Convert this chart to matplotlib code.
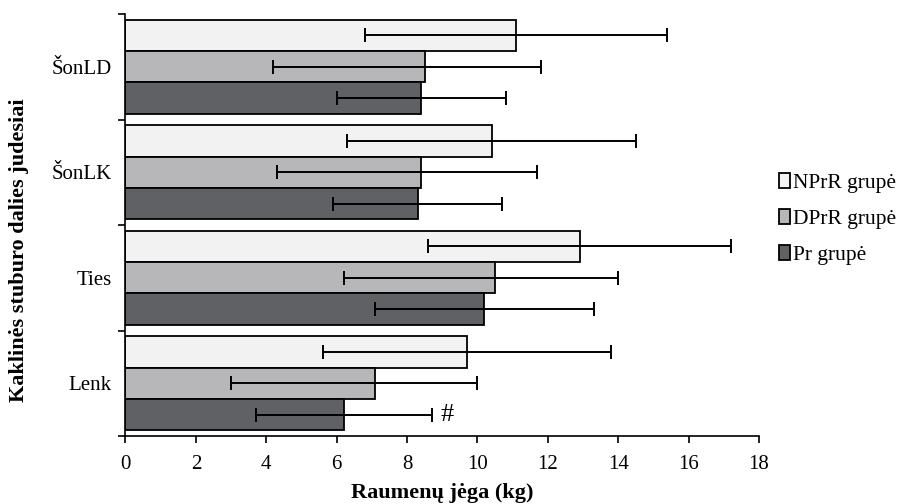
import matplotlib.pyplot as plt
import numpy as np
from matplotlib.ticker import FixedLocator

# Values (bottom to top on the y axis).
CATEGORIES = ["Lenk", "Ties", "ŠonLK", "ŠonLD"]
GROUPS = ["NPrR grupė", "DPrR grupė", "Pr grupė"]

NPRR_MEAN = [9.7, 12.9, 10.4, 11.1]
NPRR_ERR_LOW = [4.1, 4.3, 4.1, 4.3]
NPRR_ERR_HIGH = [4.1, 4.3, 4.1, 4.3]

DPRR_MEAN = [7.1, 10.5, 8.4, 8.5]
DPRR_ERR_LOW = [4.1, 4.3, 4.1, 4.3]
DPRR_ERR_HIGH = [2.9, 3.5, 3.3, 3.3]

PR_MEAN = [6.2, 10.2, 8.3, 8.4]
PR_ERR_LOW = [2.5, 3.1, 2.4, 2.4]
PR_ERR_HIGH = [2.5, 3.1, 2.4, 2.4]

X_TICKS = list(range(0, 20, 2))

COLORS = ["#f2f2f2", "#b7b7b9", "#606165"]
BAR_HEIGHT = 0.297

plt.rcParams["font.family"] = ["Liberation Serif", "DejaVu Serif"]

fig = plt.figure(figsize=(9.04, 5.04), dpi=100)
ax = fig.add_axes([0.1388, 0.1349, 0.7008, 0.8373])

y = np.arange(len(CATEGORIES))
series = [
    (NPRR_MEAN, NPRR_ERR_LOW, NPRR_ERR_HIGH, BAR_HEIGHT),
    (DPRR_MEAN, DPRR_ERR_LOW, DPRR_ERR_HIGH, 0.0),
    (PR_MEAN, PR_ERR_LOW, PR_ERR_HIGH, -BAR_HEIGHT),
]

for (means, low, high, offset), color, label in zip(series, COLORS, GROUPS):
    ax.barh(
        y + offset,
        means,
        height=BAR_HEIGHT,
        color=color,
        edgecolor="black",
        linewidth=1.3,
        label=label,
        zorder=2,
    )
    ax.errorbar(
        means,
        y + offset,
        xerr=[low, high],
        fmt="none",
        ecolor="black",
        elinewidth=1.4,
        capsize=5,
        capthick=1.4,
        zorder=3,
    )

ax.text(9.15, y[0] - BAR_HEIGHT, "#", fontsize=19, ha="center", va="center")

ax.set_xlim(0, 18)
ax.set_ylim(-0.5, len(CATEGORIES) - 0.5)
ax.set_xticks(X_TICKS)
ax.set_yticks(y)
ax.set_yticklabels(CATEGORIES)
ax.yaxis.set_minor_locator(FixedLocator(np.arange(-0.5, len(CATEGORIES), 1.0)))

ax.tick_params(axis="x", direction="out", length=5, width=1.2, labelsize=15, pad=9)
ax.tick_params(axis="y", which="major", length=0, labelsize=15, pad=10)
ax.tick_params(axis="y", which="minor", direction="out", length=5, width=1.2)

for side in ["top", "right"]:
    ax.spines[side].set_visible(False)
for side in ["left", "bottom"]:
    ax.spines[side].set_linewidth(1.2)

ax.set_xlabel("Raumenų jėga (kg)", fontsize=16, fontweight="bold")
ax.xaxis.set_label_coords(0.5, -0.112)
ax.set_ylabel("Kaklinės stuburo dalies judesiai", fontsize=16, fontweight="bold")
ax.yaxis.set_label_coords(-0.153, 0.44)

ax.legend(
    loc="center left",
    bbox_to_anchor=(1.0, 0.514),
    frameon=False,
    fontsize=15.5,
    handlelength=0.5,
    handleheight=0.7,
    handletextpad=0.15,
    labelspacing=0.75,
    borderaxespad=0.55,
)

fig.savefig("out.png", dpi=100)
